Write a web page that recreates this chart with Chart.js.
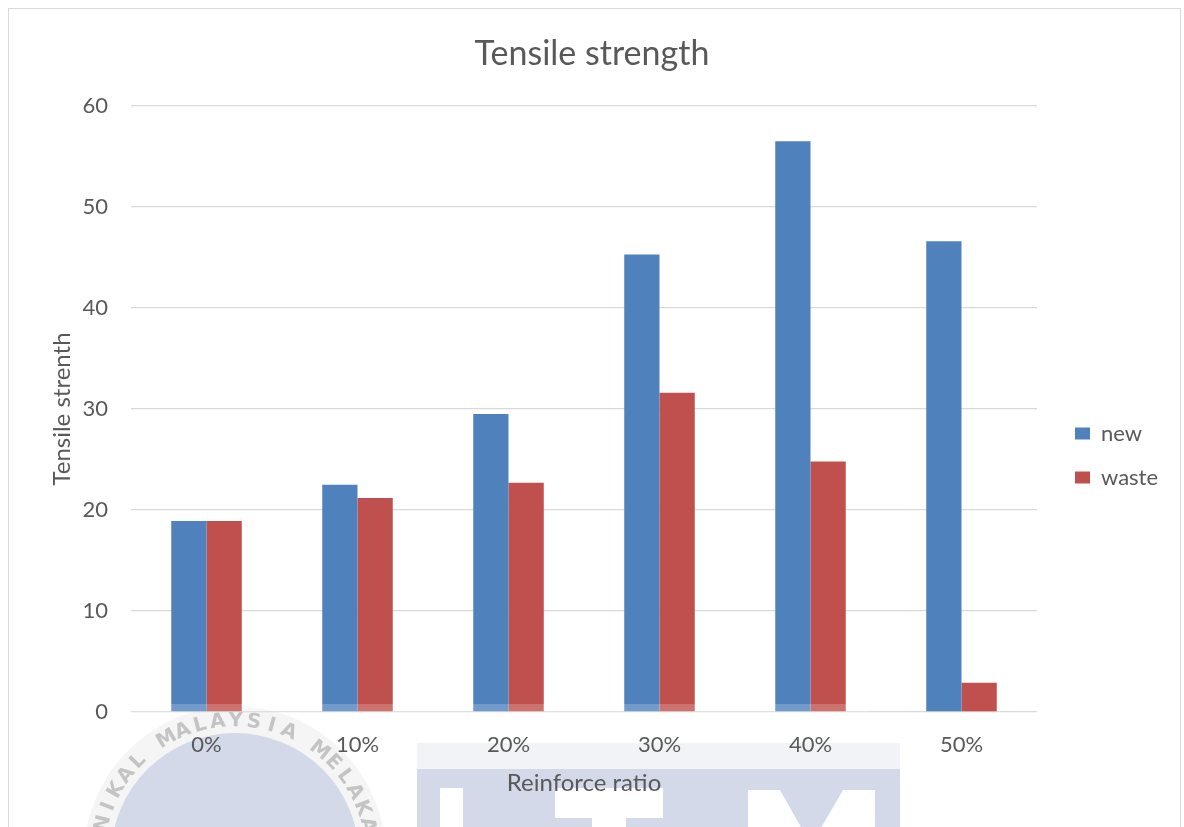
<!DOCTYPE html>
<html>
<head>
<meta charset="utf-8">
<title>Tensile strength</title>
<script src="https://cdn.jsdelivr.net/npm/chart.js@4.4.1/dist/chart.umd.min.js"></script>
<style>
  html, body { margin: 0; padding: 0; background: #ffffff; }
  canvas { display: block; }
</style>
</head>
<body>
<canvas id="chart" width="1184" height="827"></canvas>
<script>
// Reinforcement ratios on the x axis
const categories = ['0%', '10%', '20%', '30%', '40%', '50%'];
// Tensile strength of the composites
const newValues = [18.9, 22.5, 29.5, 45.3, 56.5, 46.6];
const wasteValues = [18.9, 21.2, 22.7, 31.6, 24.8, 2.9];
// Value axis range
const yMin = 0;
const yMax = 60;
const yStep = 10;

const TEXT = '#595959';
const FONT = 'Lato, "Open Sans", sans-serif';

// Frame around the figure and the faint university seal behind the lower part
const backdrop = {
  id: 'backdrop',
  beforeDraw(chart) {
    const ctx = chart.ctx;
    ctx.save();
    // frame
    ctx.strokeStyle = '#d9d9d9';
    ctx.lineWidth = 1;
    ctx.strokeRect(8.5, 8.5, 1172, 840);

    // seal ring
    const cx = 235, cy = 857;
    ctx.fillStyle = '#f5f5f6';
    ctx.beginPath(); ctx.arc(cx, cy, 151, 0, Math.PI * 2); ctx.fill();
    ctx.fillStyle = '#d3d9e8';
    ctx.beginPath(); ctx.arc(cx, cy, 124, 0, Math.PI * 2); ctx.fill();

    // ring lettering
    const ring = 'UNIVERSITI TEKNIKAL MALAYSIA MELAKA';
    ctx.fillStyle = '#c4c4c4';
    ctx.font = 'bold 20px "DejaVu Sans", ' + FONT;
    ctx.textAlign = 'center';
    ctx.textBaseline = 'middle';
    const step = 0.133;
    for (let i = 0; i < ring.length; i++) {
      const a = -Math.PI / 2 - 0.06 + (i - 23.5) * step;
      ctx.save();
      ctx.translate(cx + Math.cos(a) * 136, cy + Math.sin(a) * 136);
      ctx.rotate(a + Math.PI / 2);
      ctx.fillText(ring[i], 0, 0);
      ctx.restore();
    }

    // lettering block
    ctx.fillStyle = '#f2f3f6';
    ctx.fillRect(417, 743, 483, 26);
    ctx.fillStyle = '#d3d9e8';
    ctx.fillRect(417, 769, 483, 60);
    ctx.fillStyle = '#ffffff';
    // U
    ctx.fillRect(440, 788, 23, 40);
    // T
    ctx.fillRect(555, 788, 108, 30);
    ctx.fillRect(592, 818, 34, 12);
    // M
    ctx.beginPath();
    ctx.moveTo(748, 790);
    ctx.lineTo(780, 790);
    ctx.lineTo(811, 845);
    ctx.lineTo(843, 790);
    ctx.lineTo(875, 790);
    ctx.lineTo(875, 830);
    ctx.lineTo(748, 830);
    ctx.closePath();
    ctx.fill();
    ctx.restore();
  },
  afterDatasetsDraw(chart) {
    // the seal's veil lightens the feet of the bars
    const ctx = chart.ctx;
    const area = chart.chartArea;
    ctx.save();
    ctx.fillStyle = 'rgba(255,255,255,0.2)';
    ctx.fillRect(area.left, area.bottom - 8, 870 - area.left, 8);
    ctx.restore();
  }
};

// Fixed legend column to the right of the plot
const legendPlacement = {
  id: 'legendPlacement',
  afterInit(chart) {
    const lg = chart.legend;
    if (lg && !lg._fixedFit) {
      const fit = lg.fit;
      lg.fit = function () {
        fit.call(this);
        this.width = 147;
      };
      lg._fixedFit = true;
    }
  },
  afterLayout(chart) {
    const lg = chart.legend;
    if (!lg) return;
    lg.left += 16; lg.right += 16;
    lg.top += 42; lg.bottom += 42;
  }
};

new Chart(document.getElementById('chart'), {
  type: 'bar',
  data: {
    labels: categories,
    datasets: [
      { label: 'new', data: newValues, backgroundColor: '#4f81bd' },
      { label: 'waste', data: wasteValues, backgroundColor: '#c0504d' }
    ]
  },
  options: {
    responsive: false,
    animation: false,
    devicePixelRatio: 1,
    layout: { padding: 0 },
    datasets: {
      bar: { categoryPercentage: 0.467, barPercentage: 1.0 }
    },
    plugins: {
      title: {
        display: true,
        text: 'Tensile strength',
        color: TEXT,
        font: { family: FONT, size: 34, weight: 'normal' },
        padding: { top: 33.6, bottom: 31.6 }
      },
      legend: {
        display: true,
        position: 'right',
        labels: {
          color: TEXT,
          font: { family: FONT, size: 22 },
          boxWidth: 15,
          boxHeight: 12,
          padding: 22
        }
      },
      tooltip: { enabled: false }
    },
    scales: {
      x: {
        grid: { display: false, drawTicks: false },
        border: { display: false },
        ticks: { color: TEXT, font: { family: FONT, size: 22 }, padding: 20 },
        title: {
          display: true,
          text: 'Reinforce ratio',
          color: TEXT,
          font: { family: FONT, size: 24 },
          padding: { top: 0, bottom: 29.6 }
        },
        afterFit(scale) { scale.height = 115; }
      },
      y: {
        min: yMin,
        max: yMax,
        ticks: {
          stepSize: yStep,
          color: TEXT,
          font: { family: FONT, size: 22 },
          padding: 23
        },
        grid: { color: '#d9d9d9', lineWidth: 1.3, drawTicks: false },
        border: { display: false },
        title: {
          display: true,
          text: 'Tensile strenth',
          color: TEXT,
          font: { family: FONT, size: 24 },
          padding: { top: 47.6, bottom: 0 }
        },
        afterFit(scale) { scale.width = 131; }
      }
    }
  },
  plugins: [backdrop, legendPlacement]
});
</script>
</body>
</html>
